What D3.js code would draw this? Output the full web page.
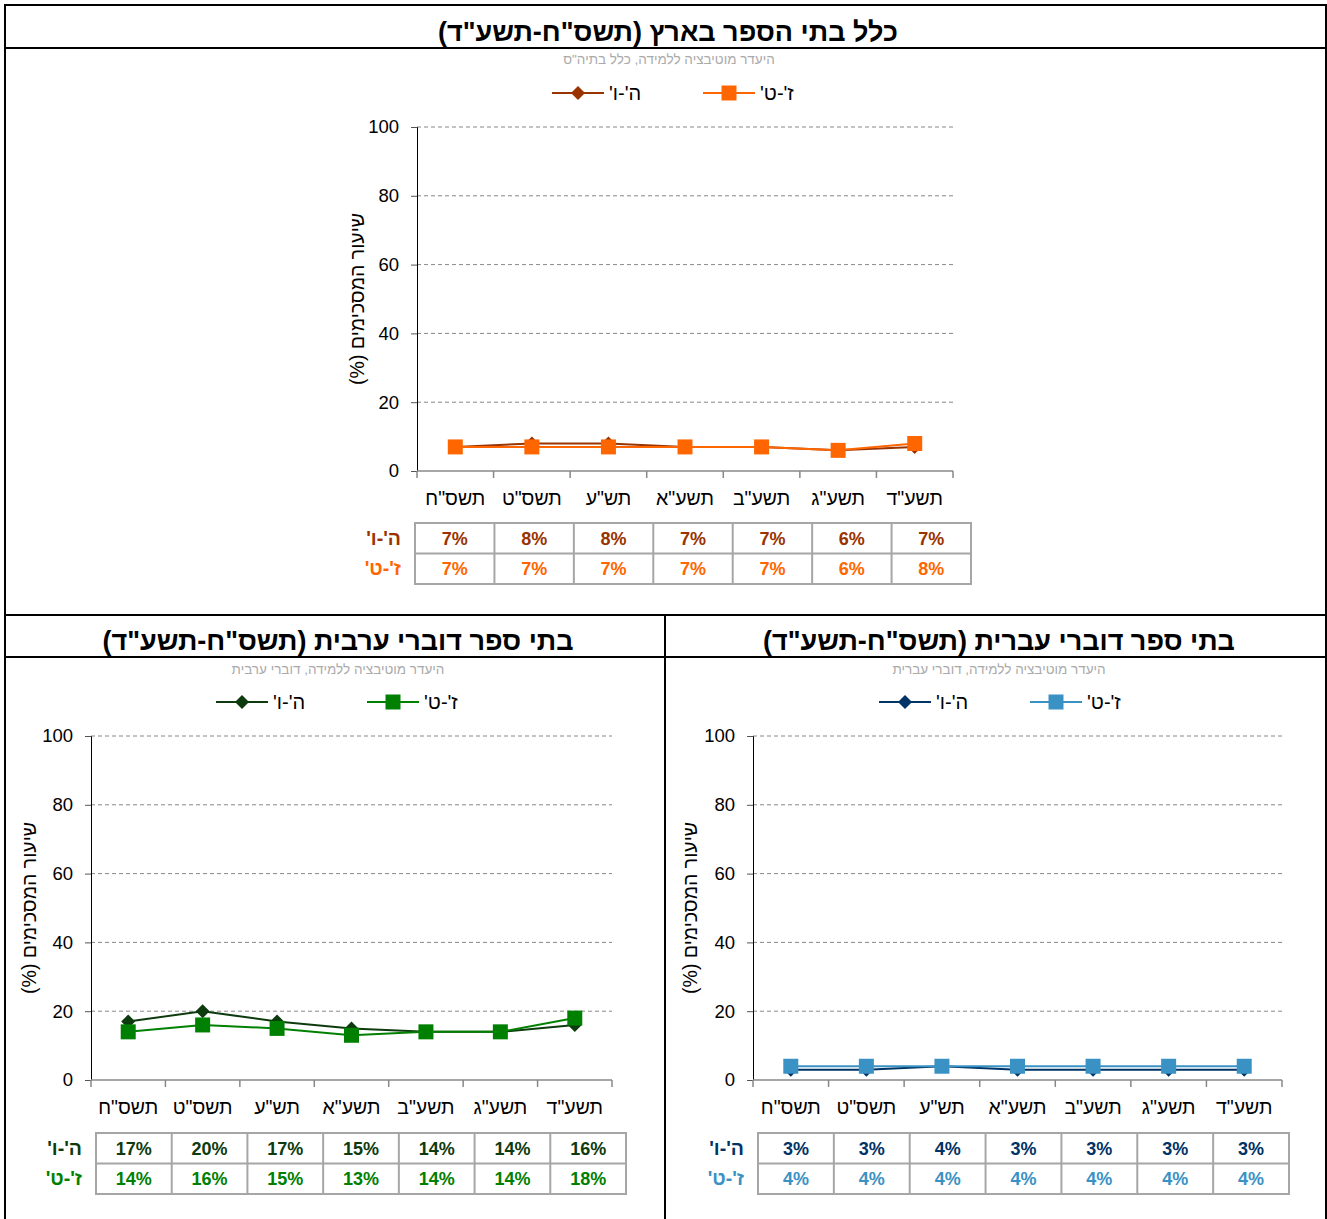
<!DOCTYPE html>
<html><head><meta charset="utf-8">
<script src="https://cdn.jsdelivr.net/npm/d3@7"></script>
<style>body{margin:0;background:#fff}svg{display:block}</style>
</head><body>
<script>
const categories = ["תשס\"ח","תשס\"ט","תש\"ע","תשע\"א","תשע\"ב","תשע\"ג","תשע\"ד"];
const seriesNames = ["ה'-ו'","ז'-ט'"];
const yTicks = [0,20,40,60,80,100];
const allH = [7,8,8,7,7,6,7];
const allZ = [7,7,7,7,7,6,8];
const arabicH = [17,20,17,15,14,14,16];
const arabicZ = [14,16,15,13,14,14,18];
const hebrewH = [3,3,4,3,3,3,3];
const hebrewZ = [4,4,4,4,4,4,4];
const titles = ["כלל בתי הספר בארץ (תשס\"ח-תשע\"ד)","בתי ספר דוברי ערבית (תשס\"ח-תשע\"ד)","בתי ספר דוברי עברית (תשס\"ח-תשע\"ד)"];
const subtitles = ["היעדר מוטיבציה ללמידה, כלל בתיה\"ס","היעדר מוטיבציה ללמידה, דוברי ערבית","היעדר מוטיבציה ללמידה, דוברי עברית"];
const yTitle = "שיעור המסכימים (%)";

const W = 1327, H = 1219;
const svg = d3.select("body").append("svg").attr("width", W).attr("height", H);
const font = "Liberation Sans, Arial, sans-serif";

// frames
const fr = svg.append("g").attr("fill","none").attr("stroke","#000").attr("stroke-width",2);
fr.append("rect").attr("x",5).attr("y",5).attr("width",1321).attr("height",1230);
fr.append("line").attr("x1",5).attr("x2",1326).attr("y1",48).attr("y2",48);
fr.append("line").attr("x1",5).attr("x2",1326).attr("y1",615).attr("y2",615);
fr.append("line").attr("x1",5).attr("x2",1326).attr("y1",657).attr("y2",657);
fr.append("line").attr("x1",665).attr("x2",665).attr("y1",615).attr("y2",1230);

function panel(cfg){
  const g = svg.append("g");
  g.append("text").attr("x",cfg.titleX).attr("y",cfg.titleY).attr("text-anchor","middle")
    .attr("direction","rtl").attr("font-family",font).attr("font-weight","bold").attr("font-size",27)
    .text(cfg.title);
  g.append("text").attr("x",cfg.subX).attr("y",cfg.subY).attr("text-anchor","middle")
    .attr("direction","rtl").attr("font-family",font).attr("font-size",13.5).attr("fill","#aaa")
    .text(cfg.sub);
  const x = d3.scaleBand().domain(categories).range([cfg.x0,cfg.x1]);
  const y = d3.scaleLinear().domain([0,100]).range([cfg.yb,cfg.yt]);
  // grid
  g.append("g").selectAll("line").data(yTicks.filter(d=>d>0)).join("line")
    .attr("x1",cfg.x0).attr("x2",cfg.x1).attr("y1",d=>y(d)).attr("y2",d=>y(d))
    .attr("stroke","#888").attr("stroke-dasharray","4,3").attr("stroke-width",1);
  // y axis
  const ya = g.append("g").attr("transform",`translate(${cfg.x0},0)`)
    .call(d3.axisLeft(y).tickValues(yTicks).tickSize(6).tickPadding(12));
  ya.select(".domain").attr("stroke","#000");
  ya.selectAll(".tick line").attr("stroke","#555");
  ya.selectAll("text").attr("font-family",font).attr("font-size",18.5).attr("fill","#000");
  // x axis
  const xg = g.append("g");
  xg.append("line").attr("x1",cfg.x0).attr("x2",cfg.x1).attr("y1",cfg.yb).attr("y2",cfg.yb).attr("stroke","#888").attr("stroke-width",1.5);
  const bounds = categories.map(c=>x(c)).concat([cfg.x1]);
  xg.selectAll("line.t").data(bounds).join("line").attr("class","t")
    .attr("x1",d=>d).attr("x2",d=>d).attr("y1",cfg.yb).attr("y2",cfg.yb+7).attr("stroke","#888").attr("stroke-width",1.5);
  xg.selectAll("text").data(categories).join("text")
    .attr("x",d=>x(d)+x.bandwidth()/2).attr("y",cfg.yb+34).attr("text-anchor","middle")
    .attr("direction","rtl").attr("font-family",font).attr("font-size",19.5).text(d=>d);
  // y title
  g.append("text").attr("transform",`translate(${cfg.ytX},${(cfg.yt+cfg.yb)/2}) rotate(-90)`)
    .attr("text-anchor","middle").attr("direction","rtl").attr("font-family",font).attr("font-size",19.5)
    .text(yTitle);
  // series
  const series = [{vals:cfg.h,col:cfg.c1,shape:"d"},{vals:cfg.z,col:cfg.c2,shape:"s"}];
  const line = d3.line().x((d,i)=>x(categories[i])+x.bandwidth()/2).y(d=>y(d));
  series.forEach(s=>{
    g.append("path").attr("d",line(s.vals)).attr("fill","none").attr("stroke",s.col).attr("stroke-width",2);
  });
  series.forEach(s=>{
    g.selectAll(null).data(s.vals).join("path")
      .attr("d", s.shape==="d" ? "M0,-7L7,0L0,7L-7,0Z" : "M-7.5,-7.5H7.5V7.5H-7.5Z")
      .attr("transform",(d,i)=>`translate(${x(categories[i])+x.bandwidth()/2},${y(d)})`)
      .attr("fill",s.col);
  });
  // legend
  const leg = [{name:seriesNames[0],col:cfg.c1,shape:"d",lx:cfg.legX},{name:seriesNames[1],col:cfg.c2,shape:"s",lx:cfg.legX+151}];
  leg.forEach(l=>{
    const lg = g.append("g").attr("transform",`translate(${l.lx},${cfg.legY})`);
    lg.append("line").attr("x1",0).attr("x2",52).attr("stroke",l.col).attr("stroke-width",2);
    lg.append("path").attr("d", l.shape==="d" ? "M0,-7L7,0L0,7L-7,0Z" : "M-7.5,-7.5H7.5V7.5H-7.5Z")
      .attr("transform","translate(26,0)").attr("fill",l.col);
    lg.append("text").attr("x",57).attr("y",7).attr("text-anchor","end").attr("font-family",font).attr("font-size",20)
      .attr("direction","rtl").text(l.name);
  });
  // table
  const tx0 = cfg.tx0, tx1 = cfg.tx1, cw = (tx1-tx0)/7, ty = cfg.ty, rh = 30.5;
  const tb = g.append("g");
  const rows = [{vals:cfg.h,col:cfg.c1,name:seriesNames[0]},{vals:cfg.z,col:cfg.c2,name:seriesNames[1]}];
  rows.forEach((r,ri)=>{
    r.vals.forEach((v,i)=>{
      tb.append("text").attr("x",tx0+cw*(i+0.5)).attr("y",ty+rh*ri+rh/2+6.5).attr("text-anchor","middle")
        .attr("font-family",font).attr("font-weight","bold").attr("font-size",18).attr("fill",r.col).text(v+"%");
    });
    tb.append("text").attr("x",tx0-14).attr("y",ty+rh*ri+rh/2+6.5).attr("text-anchor","start")
      .attr("direction","rtl").attr("font-family",font).attr("font-weight","bold").attr("font-size",19.5).attr("fill",r.col).text(r.name);
  });
  const gs = tb.append("g").attr("stroke","#a6a6a6").attr("stroke-width",2).attr("fill","none");
  gs.append("rect").attr("x",tx0).attr("y",ty).attr("width",tx1-tx0).attr("height",rh*2);
  gs.append("line").attr("x1",tx0).attr("x2",tx1).attr("y1",ty+rh).attr("y2",ty+rh);
  d3.range(1,7).forEach(i=>gs.append("line").attr("x1",tx0+cw*i).attr("x2",tx0+cw*i).attr("y1",ty).attr("y2",ty+rh*2));
}

panel({title:titles[0],titleX:668,titleY:41,sub:subtitles[0],subX:669,subY:64,
  x0:417,x1:953,yt:127,yb:471,ytX:364,h:allH,z:allZ,c1:"#993300",c2:"#ff6600",
  legX:552,legY:93,tx0:415,tx1:971,ty:523});
panel({title:titles[1],titleX:338,titleY:650,sub:subtitles[1],subX:338,subY:674,
  x0:91,x1:612,yt:736,yb:1080,ytX:36,h:arabicH,z:arabicZ,c1:"#0d3b0d",c2:"#008000",
  legX:216,legY:702,tx0:96,tx1:626,ty:1133});
panel({title:titles[2],titleX:999,titleY:650,sub:subtitles[2],subX:999,subY:674,
  x0:753,x1:1282,yt:736,yb:1080,ytX:697,h:hebrewH,z:hebrewZ,c1:"#003366",c2:"#3a92c4",
  legX:879,legY:702,tx0:758,tx1:1289,ty:1133});
</script>
</body></html>
